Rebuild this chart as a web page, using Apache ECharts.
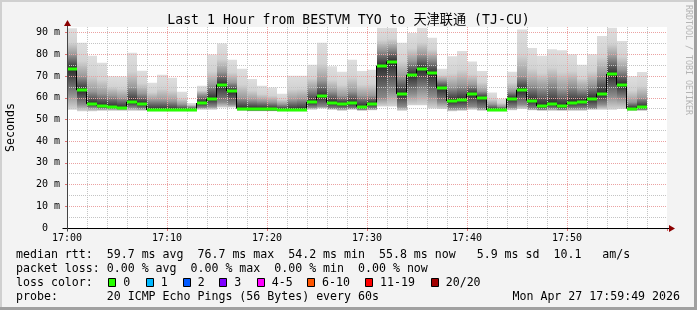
<!DOCTYPE html>
<html><head><meta charset="utf-8">
<script src="https://cdn.jsdelivr.net/npm/echarts@6/dist/echarts.min.js"></script>
<style>html,body{margin:0;padding:0;background:#f3f3f3;}#c{width:697px;height:310px;}</style>
</head><body><div id="c"></div>
<script>
// ---- data (minutes after 17:00, ms) ----
const minuteOffsets = [0,1,2,3,4,5,6,7,8,9,10,11,12,13,14,15,16,17,18,19,20,21,22,23,24,25,26,27,28,29,
  30,31,32,33,34,35,36,37,38,39,40,41,42,43,44,45,46,47,48,49,50,51,52,53,54,55,56,57];
const pingMedian = [73.3,63.5,57.2,56.3,55.8,55.3,58.1,57.2,54.4,54.4,
  54.3,54.2,54.2,57.6,59.5,66.1,63.1,55.0,54.9,54.9,
  54.8,54.4,54.4,54.5,58.0,60.6,57.8,57.0,57.6,55.9,
  57.2,74.8,76.7,61.8,70.6,73.2,71.3,64.4,58.5,59.0,
  61.8,60.0,54.4,54.4,59.6,63.7,58.7,56.2,57.2,56.1,
  57.6,58.2,59.5,61.9,71.0,66.0,55.0,55.8];
const pingMax = [92.0,85.3,79.3,76.1,69.9,69.8,80.7,72.4,66.9,70.6,
  69.2,62.8,57.6,65.5,79.9,85.0,77.5,73.4,68.7,65.5,
  64.7,61.8,70.1,70.1,75.2,85.3,74.5,72.0,77.5,72.3,
  72.9,92.2,92.2,85.4,89.8,92.2,87.7,73.4,79.1,81.5,
  76.7,72.3,62.4,59.5,72.0,91.5,82.9,79.4,82.4,81.9,
  80.1,75.2,80.1,88.5,92.2,86.2,69.9,71.9];
const pingP75 = [80,70,63,62,61,60,65,62,59,59,
  58.5,57,56,61.5,66,72,67,60,59,58.5,
  58,57,59,59.5,64,68,63,61,63,61,
  61,82,83,70,77,80,78,68,65,66,
  66,63,57,56,63,70,66,65,67,64,
  66,64,66,71,79,73,58,60];
const pingP25 = [62,57,55.5,55,55,54.8,55.5,55,54,54,
  54,54,54,55.5,56,58,57,54.3,54,54,
  54,54,54,54,55.5,56,55,55,55,54.5,
  55,60,63,56,62,64,61,58,55,55,
  56,55,54,54,55.5,57,55,54.5,55,54.5,
  55,55,55,57,61,60,54.3,54.5];
const pingMin = [54.5,53.8,53.8,54,54,54,54,54,53.8,53.8,
  53.8,53.8,53.8,54.5,54.5,55.5,55.5,54,53.8,53.8,
  53.8,53.8,53.8,53.8,54.5,55,54.5,54,54.5,54,
  54.2,56,56,54,56.5,56.5,55,54.8,53.8,54,
  54.5,54,53.8,53.8,54.2,54.8,54.2,54,54,54,
  54,54,54.5,54.5,54.5,54.8,54,54];
const xTickLabels = ['17:00','17:10','17:20','17:30','17:40','17:50',''];
const yTickLabels = ['0  ','10 m','20 m','30 m','40 m','50 m','60 m','70 m','80 m','90 m'];
const lossLabels = ['0','1','2','3','4-5','6-10','11-19','20/20'];
const lossColors = ['#26ff00','#00b8ff','#0059ff','#7e00ff','#ff00ff','#ff5500','#ff0000','#a10000'];
const titleText = 'Last 1 Hour from BESTVM TYO to 天津联通 (TJ-CU)';
const legendLines = [
  'median rtt:  59.7 ms avg  76.7 ms max  54.2 ms min  55.8 ms now   5.9 ms sd  10.1   am/s',
  'packet loss: 0.00 % avg  0.00 % max  0.00 % min  0.00 % now',
  'loss color:',
  'probe:       20 ICMP Echo Pings (56 Bytes) every 60s'
];
const stampText = 'Mon Apr 27 17:59:49 2026';

// ---- chart ----
const MONO = "'DejaVu Sans Mono', 'Noto Sans CJK SC', monospace";
const chart = echarts.init(document.getElementById('c'), null, {renderer: 'canvas'});
const RED = '#eba2a2', GRAY = '#c4c4c4';

const smokeData = minuteOffsets.map((m, i) => [m, pingMin[i], pingP25[i], pingMedian[i], pingP75[i], pingMax[i]]);
const medData = minuteOffsets.map((m, i) => [m, pingMedian[i]]);

const option = {
  animation: false,
  backgroundColor: '#f3f3f3',
  title: {
    text: titleText, left: 'center', top: 13, padding: 0,
    textStyle: {fontFamily: MONO, fontSize: 13.2, fontWeight: 'normal', color: '#000', lineHeight: 15}
  },
  grid: {left: 67, right: 30, top: 27, bottom: 82, show: true, backgroundColor: '#ffffff', borderWidth: 0,
    containLabel: false, outerBoundsMode: 'none'},
  xAxis: [{
    type: 'value', min: 0, max: 60, interval: 10, z: 3,
    axisLine: {show: false},
    axisTick: {show: true, length: 3, lineStyle: {color: '#e07070'}},
    axisLabel: {margin: 5.5, fontFamily: MONO, fontSize: 10, color: '#000',
      formatter: v => { const k = Math.round(v / 10); return Math.abs(v - k * 10) < 1e-6 ? (xTickLabels[k] || '') : ''; }},
    splitLine: {show: true, showMaxLine: false, lineStyle: {color: RED, width: 1, type: [1, 1]}}
  }, {
    type: 'value', min: 0, max: 60, interval: 2, z: 2, position: 'bottom',
    axisLine: {show: false}, axisTick: {show: false}, axisLabel: {show: false},
    splitLine: {show: true, showMaxLine: false, lineStyle: {color: ['rgba(0,0,0,0)', GRAY, GRAY, GRAY, GRAY], width: 1, type: [1, 1]}}
  }],
  yAxis: [{
    type: 'value', min: 0, max: 92.6, interval: 10, z: 3,
    name: 'Seconds', nameLocation: 'middle', nameGap: 50, nameRotate: 90,
    nameTextStyle: {fontFamily: MONO, fontSize: 11.6, color: '#000'},
    axisLine: {show: false},
    axisTick: {show: true, length: 2, lineStyle: {color: '#e07070'}},
    axisLabel: {margin: 7, fontFamily: MONO, fontSize: 10, color: '#000', showMaxLabel: false,
      formatter: v => { const k = Math.round(v / 10); return Math.abs(v - k * 10) < 1e-6 ? (yTickLabels[k] || '') : ''; }},
    splitLine: {show: true, showMinLine: false, showMaxLine: false, lineStyle: {color: RED, width: 1, type: [1, 1]}}
  }, {
    type: 'value', min: 0, max: 92.6, interval: 5, z: 2, position: 'left',
    axisLine: {show: false}, axisTick: {show: false}, axisLabel: {show: false},
    splitLine: {show: true, showMaxLine: false, lineStyle: {color: ['rgba(0,0,0,0)', GRAY], width: 1, type: [1, 1]}}
  }],
  series: [{
    type: 'custom', name: 'smoke', z: 1, xAxisIndex: 0, yAxisIndex: 0,
    encode: {x: 0, y: [1, 5]},
    data: smokeData,
    renderItem: (params, api) => {
      const m = api.value(0), lo = api.value(1), q1 = api.value(2), md = api.value(3), q3 = api.value(4), hi = api.value(5);
      const pt = api.coord([m, hi]), pb = api.coord([m + 1, lo]);
      const span = (hi - lo) || 1;
      const off = v => Math.min(1, Math.max(0, (hi - v) / span));
      const oq3 = off(q3), omd = off(md), oq1 = off(q1);
      const grad = new echarts.graphic.LinearGradient(0, 0, 0, 1, [
        {offset: 0, color: '#dedede'},
        {offset: oq3 * 0.55, color: '#d2d2d2'},
        {offset: oq3, color: '#9a9a9a'},
        {offset: omd, color: '#2c2c2c'},
        {offset: oq1, color: '#8a8a8a'},
        {offset: 1, color: '#d6d6d6'}
      ]);
      return {type: 'rect', shape: {x: pt[0], y: pt[1], width: pb[0] - pt[0], height: pb[1] - pt[1]}, style: {fill: grad}};
    }
  }, {
    type: 'custom', name: 'median', z: 5, xAxisIndex: 0, yAxisIndex: 0,
    encode: {x: 0, y: 1},
    data: medData,
    renderItem: (params, api) => {
      const i = params.dataIndex;
      const m = api.value(0), v = api.value(1);
      const a = api.coord([m, v]), b = api.coord([m + 1, v]);
      const ch = [];
      if (i < pingMedian.length - 1) {
        const c = api.coord([m + 1, pingMedian[i + 1]]);
        const xx = Math.round(b[0]) - 0.5;
        ch.push({type: 'line', shape: {x1: xx, y1: a[1], x2: xx, y2: c[1]}, style: {stroke: '#000', lineWidth: 1}});
      }
      ch.push({type: 'rect', shape: {x: a[0], y: Math.round(a[1]) - 1.5, width: b[0] - a[0], height: 3}, style: {fill: lossColors[0]}});
      return {type: 'group', children: ch};
    }
  }]
};
chart.setOption(option);

// ---- decorations: axes with arrows, legend, frame ----
const o = chart.convertToPixel({xAxisIndex: 0, yAxisIndex: 0}, [0, 0]);
const e = chart.convertToPixel({xAxisIndex: 0, yAxisIndex: 0}, [60, 92.6]);
const ax = Math.round(o[0]) + 0.5, ay = Math.round(o[1]) + 0.5;
const ARROW = '#8b0000';
const g = [
  {type: 'rect', z: 100, shape: {x: 0, y: 0, width: 697, height: 2}, style: {fill: '#d0d0d0'}},
  {type: 'rect', z: 100, shape: {x: 0, y: 0, width: 2, height: 310}, style: {fill: '#d0d0d0'}},
  {type: 'rect', z: 100, shape: {x: 0, y: 307, width: 697, height: 3}, style: {fill: '#a0a0a0'}},
  {type: 'rect', z: 100, shape: {x: 694, y: 0, width: 3, height: 310}, style: {fill: '#a0a0a0'}},
  {type: 'line', z: 50, shape: {x1: ax - 5, y1: ay, x2: e[0] + 3, y2: ay}, style: {stroke: '#000', lineWidth: 1}},
  {type: 'line', z: 50, shape: {x1: ax, y1: ay + 3, x2: ax, y2: e[1] - 3}, style: {stroke: '#444', lineWidth: 1}},
  {type: 'polygon', z: 51, shape: {points: [[e[0] + 2, ay - 3.5], [e[0] + 8, ay], [e[0] + 2, ay + 3.5]]}, style: {fill: ARROW}},
  {type: 'polygon', z: 51, shape: {points: [[ax - 3.5, e[1] - 1], [ax, e[1] - 7], [ax + 3.5, e[1] - 1]]}, style: {fill: ARROW}},
  {type: 'text', z: 50, x: 688, y: 60, rotation: -Math.PI / 2,
    style: {text: 'RRDTOOL / TOBI OETIKER', font: '8.3px ' + MONO, fill: '#b4b4b4', align: 'center', verticalAlign: 'middle'}}
];
const lineY = [255, 269, 283, 297];
legendLines.forEach((t, k) => {
  g.push({type: 'text', z: 50, x: 16, y: lineY[k], style: {text: t, font: '11.6px ' + MONO, fill: '#000', align: 'left', verticalAlign: 'middle'}});
});
g.push({type: 'text', z: 50, x: 680, y: lineY[3], style: {text: stampText, font: '11.6px ' + MONO, fill: '#000', align: 'right', verticalAlign: 'middle'}});
const boxX = [108.3, 145.7, 182.7, 219.3, 256.7, 307, 365, 430.7];
lossLabels.forEach((t, k) => {
  const bx = Math.round(boxX[k]) + 0.5;
  g.push({type: 'rect', z: 50, shape: {x: bx, y: 278.5, width: 7, height: 8}, style: {fill: lossColors[k], stroke: '#000', lineWidth: 1}});
  g.push({type: 'text', z: 50, x: boxX[k] + 15, y: lineY[2], style: {text: t, font: '11.6px ' + MONO, fill: '#000', align: 'left', verticalAlign: 'middle'}});
});
chart.setOption({graphic: g});
</script></body></html>
